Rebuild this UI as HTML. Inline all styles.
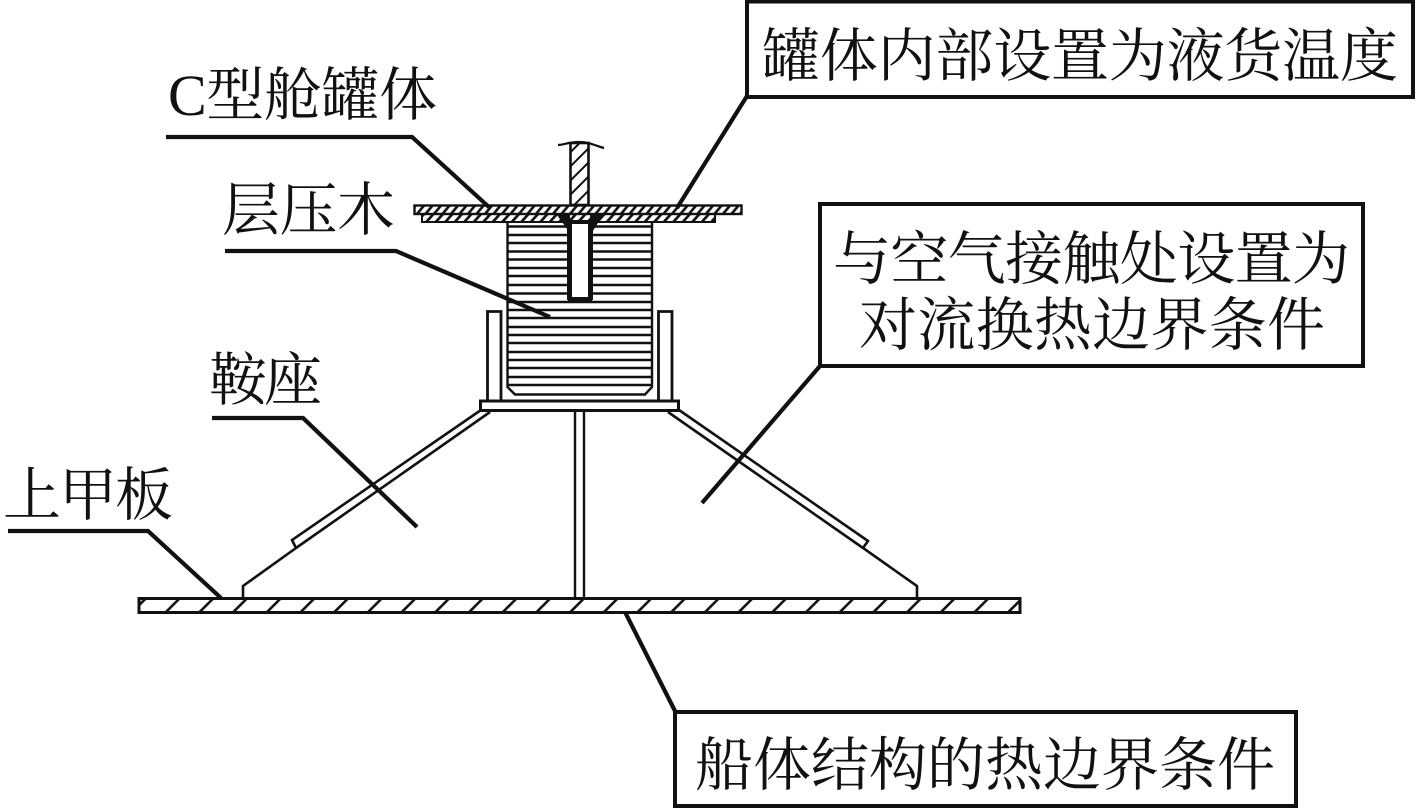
<!DOCTYPE html>
<html><head><meta charset="utf-8"><style>
html,body{margin:0;padding:0;background:#fff}
svg{display:block}
text{font-family:"Liberation Serif","Noto Serif CJK SC",serif;font-size:58px;fill:#111;font-weight:400}
</style></head><body>
<svg width="1417" height="808" viewBox="0 0 1417 808" xmlns="http://www.w3.org/2000/svg">
<defs>
<pattern id="hDeck" width="33.7" height="15" patternUnits="userSpaceOnUse" patternTransform="translate(165 598)">
<line x1="0" y1="15" x2="15" y2="0" stroke="#111" stroke-width="2.6"/>
</pattern>
<pattern id="hBolt" width="10" height="10" patternUnits="userSpaceOnUse" patternTransform="rotate(45)">
<line x1="0" y1="0" x2="0" y2="10" stroke="#111" stroke-width="4"/>
</pattern>
<pattern id="hPlate" width="8.5" height="9" patternUnits="userSpaceOnUse" patternTransform="translate(414 205) skewX(-40)">
<line x1="2" y1="0" x2="2" y2="9" stroke="#111" stroke-width="3.4"/>
</pattern>
<pattern id="hPlate2" width="9.5" height="8" patternUnits="userSpaceOnUse" patternTransform="translate(422 214) skewX(-42)">
<line x1="2" y1="0" x2="2" y2="8" stroke="#111" stroke-width="3.6"/>
</pattern>
</defs>
<rect width="1417" height="808" fill="#fff"/>

<!-- deck -->
<rect x="139" y="598.5" width="881" height="14" fill="url(#hDeck)" stroke="#111" stroke-width="3"/>

<!-- saddle -->
<g fill="none" stroke="#111" stroke-width="2.6">
<path d="M243 598V586L296 548L292 540L481 410"/>
<path d="M296 548L490 412"/>
<path d="M917 598V586L863 548L868 541L679 410"/>
<path d="M863 548L668 412"/>
<path d="M575 410V598M584 410V598" stroke-width="2.4"/>
<rect x="480.500" y="401" width="198" height="9.500" stroke-width="3"/>
<path d="M487.500 401V311.500H501V401M658.500 401V311.500H672V401" stroke-width="2.8"/>
</g>

<!-- laminate block -->
<g fill="none" stroke="#111" stroke-width="2.4">
<path d="M507.500 222V387L515 394.500H645L652 387V222"/>
<path d="M508 226.500H652M508 235H652M508 243H652M508 251.500H652M508 259.500H652M508 268H652M508 276H652M508 285H652M508 293.500H652M508 302H652M508 310H652M508 318H652M508 327H652M508 335H652M508 343H652M508 352H652M508 360H652M508 368H652M508 377H652M508 385H652"/>
</g>

<!-- plates -->
<rect x="422" y="214" width="293" height="8" fill="url(#hPlate2)" stroke="#111" stroke-width="2"/>
<rect x="414.500" y="205.500" width="327" height="8.500" fill="url(#hPlate)" stroke="#111" stroke-width="2.4"/>

<!-- bolt -->
<rect x="570.500" y="143" width="18" height="62" fill="url(#hBolt)" stroke="#111" stroke-width="2.6"/>
<path d="M558 145C564 145 568 142 579 142C590 142 596 146 604 148" fill="none" stroke="#111" stroke-width="2.2"/>
<rect x="570" y="222" width="20" height="77" fill="#fff" stroke="#111" stroke-width="4"/>
<path d="M557 215H570V234L565 226ZM590 215H603L596 226L591 234Z" fill="#111"/>
<path d="M568 222V300M592 222V300" stroke="#111" stroke-width="2"/>

<!-- leaders -->
<g fill="none" stroke="#111" stroke-width="4.200">
<path d="M166 137H412L490 208"/>
<path d="M225 251H396L550 317"/>
<path d="M212 418H303L417 527"/>
<path d="M8 531H148L221 598"/>
<path d="M747 96L677 208"/>
<path d="M820 366L702 503"/>
<path d="M625 612L675 711"/>
</g>

<!-- boxes -->
<g fill="#fff" stroke="#111" stroke-width="4">
<rect x="747" y="1.500" width="666" height="95.500"/>
<rect x="820" y="204" width="543" height="162"/>
<rect x="675" y="712" width="621" height="94"/>
</g>

<!-- labels -->
<text x="762" y="76" textLength="636" lengthAdjust="spacing">罐体内部设置为液货温度</text>
<text x="168" y="115" textLength="269" lengthAdjust="spacing">C型舱罐体</text>
<text x="222" y="230" textLength="173" lengthAdjust="spacing">层压木</text>
<text x="209" y="400" textLength="113" lengthAdjust="spacing">鞍座</text>
<text x="3" y="515" textLength="170" lengthAdjust="spacing">上甲板</text>
<text x="833" y="279" textLength="517" lengthAdjust="spacing">与空气接触处设置为</text>
<text x="859" y="345" textLength="466" lengthAdjust="spacing">对流换热边界条件</text>
<text x="695" y="785" textLength="580" lengthAdjust="spacing">船体结构的热边界条件</text>
</svg>
</body></html>
